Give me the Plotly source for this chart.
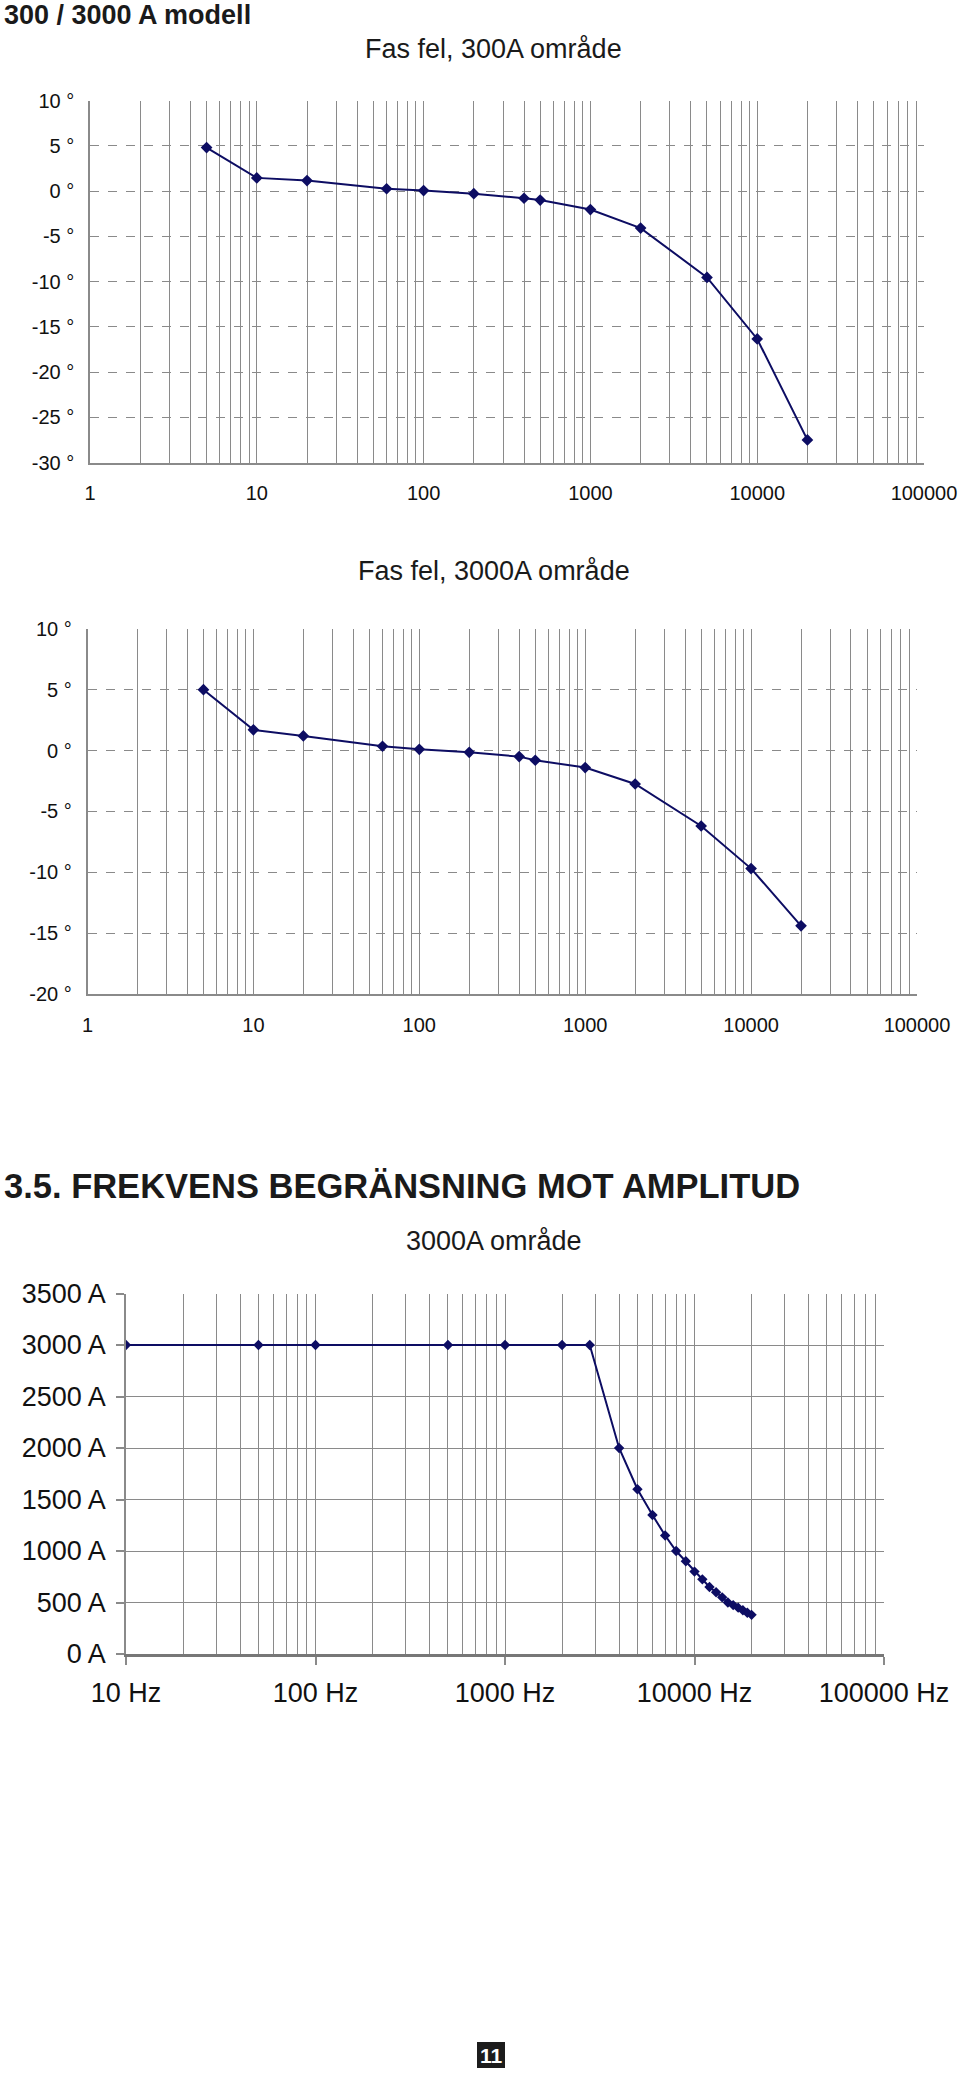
import plotly.graph_objects as go

# ---------------- data ----------------
freq_phase = [5, 10, 20, 60, 100, 200, 400, 500, 1000, 2000, 5000, 10000, 20000]
phase_300A = [4.8, 1.45, 1.15, 0.25, 0.05, -0.3, -0.8, -1.0, -2.05, -4.1, -9.55, -16.35, -27.5]
phase_3000A = [5.0, 1.7, 1.2, 0.35, 0.1, -0.15, -0.5, -0.8, -1.4, -2.75, -6.2, -9.7, -14.4]

freq_amp = [10, 50, 100, 500, 1000, 2000, 2800, 4000, 5000, 6000, 7000, 8000, 9000,
            10000, 11000, 12000, 13000, 14000, 15000, 16000, 17000, 18000, 19000, 20000]
amp_3000A = [3000, 3000, 3000, 3000, 3000, 3000, 3000, 2000, 1600, 1350, 1150, 1000, 900,
             800, 725, 650, 600, 550, 500, 475, 450, 425, 400, 380]

phase_x_ticks = [1, 10, 100, 1000, 10000, 100000]
phase_x_labels = ["1", "10", "100", "1000", "10000", "100000"]
phase1_y_ticks = [-30, -25, -20, -15, -10, -5, 0, 5, 10]
phase2_y_ticks = [-20, -15, -10, -5, 0, 5, 10]
amp_x_ticks = [10, 100, 1000, 10000, 100000]
amp_x_labels = ["10 Hz", "100 Hz", "1000 Hz", "10000 Hz", "100000 Hz"]
amp_y_ticks = [0, 500, 1000, 1500, 2000, 2500, 3000, 3500]

header_1 = "300 / 3000 A modell"
header_2 = "3.5. FREKVENS BEGRÄNSNING MOT AMPLITUD"
title_1 = "Fas fel, 300A område"
title_2 = "Fas fel, 3000A område"
title_3 = "3000A område"
page_no = "11"

# ---------------- layout helpers ----------------
W, H = 960, 2075
FONT = "Liberation Sans, Arial, Helvetica, sans-serif"
NAVY = "#0d0d63"
GRID = "#8a8a8a"


def xdom(x0, x1):
    return [x0 / W, x1 / W]


def ydom(y0, y1):
    return [1 - y1 / H, 1 - y0 / H]


def py(y):
    return 1 - y / H


fig = go.Figure()

fig.add_trace(go.Scatter(x=freq_phase, y=phase_300A, mode="lines+markers",
                         line=dict(color=NAVY, width=2),
                         marker=dict(symbol="diamond", size=9, color=NAVY),
                         xaxis="x", yaxis="y", showlegend=False))
fig.add_trace(go.Scatter(x=freq_phase, y=phase_3000A, mode="lines+markers",
                         line=dict(color=NAVY, width=2),
                         marker=dict(symbol="diamond", size=9, color=NAVY),
                         xaxis="x2", yaxis="y2", showlegend=False))
fig.add_trace(go.Scatter(x=freq_amp, y=amp_3000A, mode="lines+markers",
                         line=dict(color=NAVY, width=2),
                         marker=dict(symbol="diamond", size=8, color=NAVY),
                         xaxis="x3", yaxis="y3", showlegend=False))

tickfont_small = dict(family=FONT, size=20, color="#111")
tickfont_big = dict(family=FONT, size=27, color="#111")

minor_grid = dict(dtick="D1", showgrid=True, gridcolor=GRID, gridwidth=1, ticks="")

common_phase_x = dict(type="log", range=[0, 5], tickvals=phase_x_ticks, ticktext=phase_x_labels,
                      showgrid=True, gridcolor=GRID, gridwidth=1, showline=True,
                      linecolor=GRID, linewidth=1.5, ticks="", tickfont=tickfont_small,
                      ticklabelstandoff=12, minor=minor_grid, zeroline=False, automargin=False)

fig.update_layout(
    width=W, height=H, autosize=False,
    margin=dict(l=0, r=0, t=0, b=0, pad=0, autoexpand=False),
    paper_bgcolor="white", plot_bgcolor="white",
    font=dict(family=FONT, color="#111"),
    xaxis=dict(domain=xdom(90, 924), anchor="y", **common_phase_x),
    yaxis=dict(domain=ydom(100.5, 462.5), anchor="x", range=[-30, 10],
               tickvals=phase1_y_ticks, ticktext=[f"{v} °" for v in phase1_y_ticks],
               showgrid=True, gridcolor=GRID, griddash="dash", gridwidth=1,
               showline=True, linecolor=GRID, linewidth=1.5, ticks="",
               tickfont=tickfont_small, ticklabelstandoff=10, zeroline=False, automargin=False),
    xaxis2=dict(domain=xdom(87.5, 917), anchor="y2", **common_phase_x),
    yaxis2=dict(domain=ydom(628.8, 994), anchor="x2", range=[-20, 10],
                tickvals=phase2_y_ticks, ticktext=[f"{v} °" for v in phase2_y_ticks],
                showgrid=True, gridcolor=GRID, griddash="dash", gridwidth=1,
                showline=True, linecolor=GRID, linewidth=1.5, ticks="",
                tickfont=tickfont_small, ticklabelstandoff=10, zeroline=False, automargin=False),
    xaxis3=dict(domain=xdom(126, 884), anchor="y3", type="log", range=[1, 5],
                tickvals=amp_x_ticks, ticktext=amp_x_labels,
                showgrid=True, gridcolor=GRID, gridwidth=1.3, showline=True,
                linecolor="#777", linewidth=2.5, ticks="outside", ticklen=8,
                tickcolor=GRID, tickwidth=1.5, tickfont=tickfont_big,
                ticklabelstandoff=5, minor=dict(dtick="D1", showgrid=True, gridcolor=GRID,
                                               gridwidth=1.3, ticks=""),
                zeroline=False, automargin=False),
    yaxis3=dict(domain=ydom(1293.5, 1654), anchor="x3", range=[0, 3500],
                tickvals=amp_y_ticks, ticktext=[f"{v} A" for v in amp_y_ticks],
                showgrid=True, gridcolor=GRID, gridwidth=1.3,
                showline=True, linecolor=GRID, linewidth=1.5, ticks="outside", ticklen=8,
                tickcolor=GRID, tickwidth=1.5, tickfont=tickfont_big,
                ticklabelstandoff=5, zeroline=False, automargin=False),
)

annotations = [
    dict(text=f"<b>{header_1}</b>", x=2 / W, y=py(15), xanchor="left", yanchor="middle",
         font=dict(family=FONT, size=27, color="#1a1a1a")),
    dict(text=title_1, x=494 / W, y=py(49), xanchor="center", yanchor="middle",
         font=dict(family=FONT, size=27, color="#1a1a1a")),
    dict(text=title_2, x=494 / W, y=py(571), xanchor="center", yanchor="middle",
         font=dict(family=FONT, size=27, color="#1a1a1a")),
    dict(text=f"<b>{header_2}</b>", x=2 / W, y=py(1186), xanchor="left", yanchor="middle",
         font=dict(family=FONT, size=34.5, color="#1a1a1a")),
    dict(text=title_3, x=494 / W, y=py(1241), xanchor="center", yanchor="middle",
         font=dict(family=FONT, size=27, color="#1a1a1a")),
    dict(text=f"<b>{page_no}</b>", x=491 / W, y=py(2055), xanchor="center", yanchor="middle",
         font=dict(family=FONT, size=21, color="white")),
]
for a in annotations:
    a.update(xref="paper", yref="paper", showarrow=False)
fig.update_layout(annotations=annotations)

fig.add_shape(type="rect", xref="paper", yref="paper",
              x0=477 / W, x1=505 / W, y0=py(2068), y1=py(2042),
              fillcolor="#1c1c1c", line=dict(width=0), layer="below")

fig.write_html("out.html", config={"displayModeBar": False},
               post_script="document.body.style.margin='0px';document.body.style.padding='0px';")
